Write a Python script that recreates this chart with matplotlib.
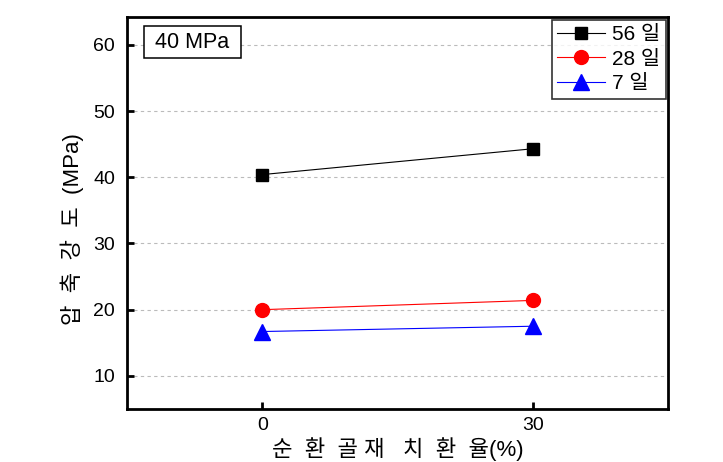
import matplotlib
matplotlib.use("Agg")
import matplotlib.pyplot as plt
from matplotlib.patches import Rectangle

plt.rcParams['font.family'] = ['Liberation Sans', 'Noto Sans CJK KR', 'DejaVu Sans']

x_vals = [0, 30]
day56 = [40.4, 44.3]
day28 = [20.0, 21.4]
day7 = [16.7, 17.5]
series_labels = ["56 일", "28 일", "7 일"]
x_ticks = [0, 30]
y_ticks = [10, 20, 30, 40, 50, 60]

fig = plt.figure(figsize=(7.23, 4.62), dpi=100)
ax = fig.add_axes([127/723, 1-409/462, (668-127)/723, (409-17)/462])

ax.plot(x_vals, day56, color='black', lw=0.8, marker='s', ms=8.8, mfc='black', mec='black', label=series_labels[0], zorder=3)
ax.plot(x_vals, day28, color='red', lw=0.8, marker='o', ms=10, mfc='red', mec='red', label=series_labels[1], zorder=3)
ax.plot(x_vals, day7, color='blue', lw=0.8, marker='^', ms=11, mfc='blue', mec='blue', label=series_labels[2], zorder=3)

ax.set_xlim(-15, 45)
ax.set_ylim(5, 64.2)
ax.set_xticks(x_ticks)
ax.set_yticks(y_ticks)
ax.yaxis.grid(True, linestyle=(0, (3, 3)), color='#bbbbbb', lw=0.8)
ax.set_axisbelow(True)

for s in ax.spines.values():
    s.set_linewidth(2.0)
ax.tick_params(axis='both', direction='in', length=5, width=2.0, labelsize=14, top=False, right=False)
ax.tick_params(axis='y', pad=8.5)
ax.tick_params(axis='x', pad=6)

ax.set_ylabel("압  축  강  도  (MPa)", fontsize=16, labelpad=6)
ax.yaxis.set_label_coords(-0.08, 0.459)
ax.set_xlabel("순  환  골 재   치  환  율(%)", fontsize=16, labelpad=2)

leg = ax.legend(loc='upper right', bbox_to_anchor=(1.0, 1.0), fontsize=15, frameon=True, fancybox=False,
                edgecolor='black', borderpad=0.28, labelspacing=0.26, handlelength=2.3, handletextpad=0.3,
                borderaxespad=0.12)
leg.get_frame().set_linewidth(1.2)

ax.add_patch(Rectangle((0.0314, 0.895), 0.179, 0.082, transform=ax.transAxes, fc='white', ec='black', lw=1.1, zorder=4))
ax.text(0.0314 + 0.0895, 0.936, "40 MPa", transform=ax.transAxes, fontsize=15.5, va='center', ha='center', zorder=5)

fig.savefig("out.png", dpi=100)
